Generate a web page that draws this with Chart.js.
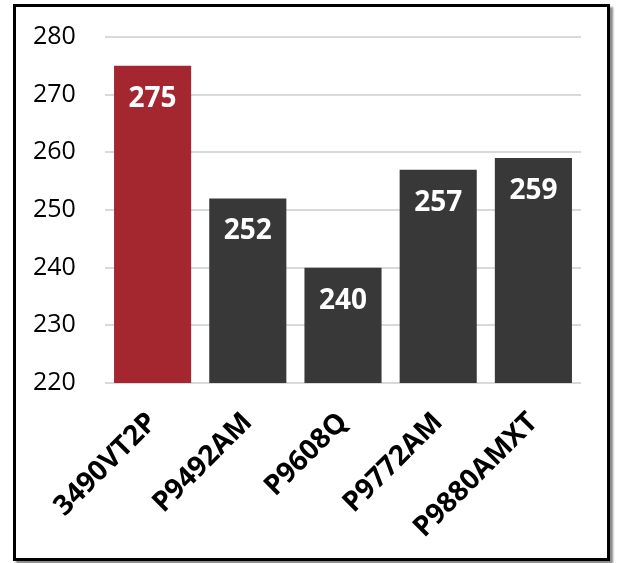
<!DOCTYPE html>
<html>
<head>
<meta charset="utf-8">
<script src="https://cdn.jsdelivr.net/npm/chart.js@4/dist/chart.umd.min.js"></script>
<style>
  html, body { margin: 0; padding: 0; background: #fff; }
  #frame {
    position: absolute;
    left: 13px;
    top: 4px;
    width: 591px;
    height: 551px;
    border: 3px solid #000;
    box-shadow: 3px 3px 2px #8a8a8a;
    background: #fff;
  }
  #frame canvas { display: block; }
</style>
</head>
<body>
<div id="frame"><canvas id="barChart" width="591" height="551"></canvas></div>
<script>
var categories = ["3490VT2P", "P9492AM", "P9608Q", "P9772AM", "P9880AMXT"];
var values = [275, 252, 240, 257, 259];
var barColors = ["#a4262f", "#383838", "#383838", "#383838", "#383838"];
var yMin = 220;
var yMax = 280;
var yStep = 10;

// draws the value inside the top of each bar
var valueLabels = {
  id: "valueLabels",
  afterDatasetsDraw: function(chart) {
    var ctx = chart.ctx;
    var meta = chart.getDatasetMeta(0);
    ctx.save();
    ctx.fillStyle = "#fff";
    ctx.font = "bold 28px 'Open Sans'";
    ctx.textAlign = "center";
    ctx.textBaseline = "middle";
    meta.data.forEach(function(bar, i) {
      ctx.fillText(values[i], bar.x, bar.y + 33);
    });
    ctx.restore();
  }
};

var chartElement = document.getElementById("barChart");
var barChart = new Chart(chartElement, {
  type: "bar",
  data: {
    labels: categories,
    datasets: [{
      data: values,
      backgroundColor: barColors,
      borderWidth: 0,
      barPercentage: 0.81,
      categoryPercentage: 1
    }]
  },
  options: {
    responsive: false,
    animation: false,
    layout: { padding: { top: 30, right: 26, left: 17, bottom: 0 } },
    plugins: {
      legend: { display: false },
      tooltip: { enabled: false }
    },
    scales: {
      x: {
        grid: { display: false },
        border: { display: false },
        ticks: {
          color: "#000",
          font: { family: "'Open Sans'", size: 28, weight: "bold" },
          minRotation: 45,
          maxRotation: 45,
          padding: 15
        },
        afterFit: function(scale) { scale.height = 175; }
      },
      y: {
        min: yMin,
        max: yMax,
        grid: { color: "#d9d9d9", lineWidth: 2, drawTicks: false },
        border: { display: false },
        ticks: {
          stepSize: yStep,
          color: "#000",
          crossAlign: "far",
          font: { family: "'Open Sans'", size: 25 },
          padding: 0
        },
        afterFit: function(scale) { scale.width = 72; }
      }
    }
  },
  plugins: [valueLabels]
});
</script>
</body>
</html>
